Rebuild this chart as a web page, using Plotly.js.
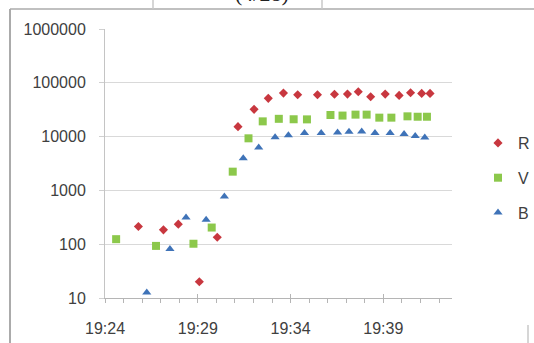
<!DOCTYPE html>
<html>
<head>
<meta charset="utf-8">
<script src="https://cdn.plot.ly/plotly-3.0.1.min.js"></script>
<style>
  html, body { margin: 0; padding: 0; background: #ffffff; }
  #chart { width: 534px; height: 343px; }
</style>
</head>
<body>
<div id="chart"></div>
<script>
// ---- data ----
const chartDate = "2012-04-28";
const titleText = "(4/28)";

const rName = "R";
const rTimes = ["19:25:48","19:27:09","19:27:57","19:29:05","19:30:03","19:31:10","19:32:02","19:32:48","19:33:37","19:34:23",
                "19:35:27","19:36:22","19:37:04","19:37:39","19:38:19","19:39:06","19:39:51","19:40:28","19:41:04","19:41:31"];
const rValues = [213, 185, 236, 20, 135, 15300, 32100, 51400, 64400, 59900,
                 59900, 61200, 61700, 68000, 55000, 61700, 58300, 65200, 63500, 63500];

const vName = "V";
const vTimes = ["19:24:36","19:26:45","19:28:46","19:29:45","19:30:53","19:31:44","19:32:30","19:33:22","19:34:10","19:34:53",
                "19:36:09","19:36:48","19:37:30","19:38:06","19:38:47","19:39:26","19:40:18","19:40:51","19:41:21"];
const vValues = [124, 93, 102, 204, 2230, 9290, 19200, 21400, 21000, 20900,
                 25200, 24600, 25600, 25600, 22500, 22500, 23800, 23400, 23400];

const bName = "B";
const bTimes = ["19:26:15","19:27:30","19:28:22","19:29:27","19:30:26","19:31:27","19:32:17","19:33:10","19:33:53","19:34:45",
                "19:35:39","19:36:32","19:37:09","19:37:50","19:38:33","19:39:22","19:40:07","19:40:43","19:41:14"];
const bValues = [12.7, 81, 313, 284, 767, 3950, 6280, 9750, 10600, 11700,
                 11700, 11900, 12300, 12500, 11700, 11700, 11200, 10300, 9600];

const yTickVals = [10, 100, 1000, 10000, 100000, 1000000];
const yTickText = ["10", "100", "1000", "10000", "100000", "1000000"];
const xStart = "19:24:00";
const xEnd = "19:42:42";

// ---- build ----
const stamp = t => chartDate + " " + t;
const fontFam = "Liberation Sans, Arial, sans-serif";
const txtCol = "#404040";

function series(name, times, vals, symbol, size, color, group) {
  return {
    type: "scatter", mode: "markers", name: name,
    x: times.map(stamp), y: vals,
    legendgroup: group,
    marker: { symbol: symbol, size: size, color: color, line: { width: 0 } }
  };
}

const traces = [
  series(rName, rTimes, rValues, "diamond", 7, "#c8373f", "g1"),
  series(vName, vTimes, vValues, "square", 8, "#8cc84b", "g2"),
  series(bName, bTimes, bValues, "triangle-up", 8, "#3f73b8", "g3"),
  { type: "scatter", mode: "markers", x: [], y: [], xaxis: "x2", yaxis: "y", showlegend: false, hoverinfo: "skip" }
];

// pixel helpers for decorations
const L = 105, T = 29, W = 534, H = 343, R = 82, B = 45;
const pw = W - L - R, ph = H - T - B;
const px = x => (x - L) / pw;
const py = y => (H - B - y) / ph;
const frameCol = "#ababab";

const shapes = [
  { type: "line", xref: "paper", yref: "paper", x0: px(10), x1: px(10), y0: py(9), y1: py(360), line: { color: frameCol, width: 2 } },
  { type: "line", xref: "paper", yref: "paper", x0: px(10), x1: px(540), y0: py(9), y1: py(9), line: { color: frameCol, width: 1.5 } },
  { type: "line", xref: "paper", yref: "paper", x0: px(153), x1: px(153), y0: py(-5), y1: py(9), line: { color: "#c8c8c8", width: 1.5 } },
  { type: "line", xref: "paper", yref: "paper", x0: px(322), x1: px(322), y0: py(-5), y1: py(9), line: { color: "#c8c8c8", width: 1.5 } },
  { type: "line", xref: "paper", yref: "paper", x0: px(528), x1: px(528), y0: py(325), y1: py(360), line: { color: "#c8c8c8", width: 1.5 } }
];

const xCommon = {
  type: "date",
  range: [stamp(xStart), stamp(xEnd)],
  tick0: stamp(xStart),
  dtick: 300000,
  ticklen: 4,
  tickcolor: "#b5b5b5",
  tickwidth: 1,
  showgrid: false,
  zeroline: false,
  minor: { dtick: 60000, tick0: stamp(xStart), ticklen: 4, tickcolor: "#b5b5b5", tickwidth: 1, showgrid: false }
};

const layout = {
  width: W, height: H,
  margin: { l: L, r: R, t: T, b: B, autoexpand: false },
  paper_bgcolor: "#ffffff",
  plot_bgcolor: "#ffffff",
  font: { family: fontFam, size: 16, color: txtCol },
  showlegend: true,
  legend: {
    x: px(478), xanchor: "left",
    y: py(178), yanchor: "middle",
    traceorder: "grouped",
    tracegroupgap: 11,
    itemwidth: 30,
    font: { family: fontFam, size: 16, color: txtCol },
    bgcolor: "rgba(0,0,0,0)"
  },
  xaxis: Object.assign({}, xCommon, {
    ticks: "outside",
    tickformat: "%H:%M",
    showline: true, linecolor: "#b5b5b5", linewidth: 1,
    ticklabelstandoff: 12,
    tickfont: { family: fontFam, size: 16, color: txtCol }
  }),
  xaxis2: Object.assign({}, xCommon, {
    overlaying: "x", matches: "x", anchor: "y",
    ticks: "inside",
    showticklabels: false,
    showline: false
  }),
  yaxis: {
    type: "log",
    range: [1, 6],
    tickvals: yTickVals,
    ticktext: yTickText,
    ticks: "outside", ticklen: 5, tickcolor: "#d0d0d0",
    showgrid: true, gridcolor: "#d9d9d9", gridwidth: 1,
    showline: true, linecolor: "#c4c4c4", linewidth: 1,
    zeroline: false,
    ticklabelstandoff: 10,
    tickfont: { family: fontFam, size: 16, color: txtCol }
  },
  shapes: shapes,
  annotations: [{
    xref: "paper", yref: "paper", x: px(262), y: py(-6),
    xanchor: "center", yanchor: "middle",
    text: titleText, showarrow: false,
    font: { family: "Liberation Serif, Times New Roman, serif", size: 22, color: "#222222" }
  }]
};

Plotly.newPlot("chart", traces, layout, { displayModeBar: false, staticPlot: true });
</script>
</body>
</html>
